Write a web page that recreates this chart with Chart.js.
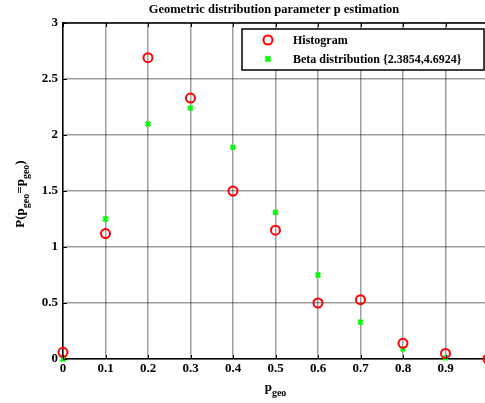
<!DOCTYPE html>
<html>
<head>
  <title>Geometric distribution parameter p estimation</title>
  <script src="https://cdn.jsdelivr.net/npm/chart.js"></script>
  <style>
    body { margin: 0; background: #fff; }
  </style>
</head>
<body>
  <canvas id="myChart" width="485" height="403"></canvas>
  <script>
    // p values where both curves are sampled
    const pValues = [0, 0.1, 0.2, 0.3, 0.4, 0.5, 0.6, 0.7, 0.8, 0.9, 1.0];
    // normalised histogram of the estimates
    const histValues = [0.06, 1.12, 2.69, 2.33, 1.50, 1.15, 0.50, 0.53, 0.14, 0.05, 0.0];
    // fitted beta density
    const betaP = [0, 0.1, 0.2, 0.3, 0.4, 0.5, 0.6, 0.7, 0.8, 0.9];
    const betaValues = [0.0, 1.25, 2.10, 2.24, 1.89, 1.31, 0.75, 0.33, 0.09, 0.01];
    const yTicks = [0, 0.5, 1, 1.5, 2, 2.5, 3];

    const serif = '"Liberation Serif", "Times New Roman", serif';
    const gridColor = 'rgba(0,0,0,0.38)';
    const toXY = (xs, ys) => xs.map((x, i) => ({ x: x, y: ys[i] }));

    // the right edge of the plot box (x = 1) lies just past the canvas
    const stretchRight = {
      id: 'stretchRight',
      afterLayout(chart) {
        const xs = chart.scales.x;
        const right = 488;
        xs.right = right;
        xs.width = right - xs.left;
        xs.configure();
        chart.chartArea.right = right;
        chart.chartArea.width = right - chart.chartArea.left;
      }
    };

    // title, axis labels with subscripts, box, inner ticks and legend
    const decorations = {
      id: 'decorations',
      afterDraw(chart) {
        const ctx = chart.ctx;
        const a = chart.chartArea;
        const xs = chart.scales.x, ys = chart.scales.y;
        ctx.save();

        // top edge of the box
        ctx.strokeStyle = '#000';
        ctx.lineWidth = 1.5;
        ctx.beginPath();
        ctx.moveTo(a.left, a.top);
        ctx.lineTo(a.right, a.top);
        ctx.stroke();

        // tick marks pointing into the plot
        ctx.lineWidth = 1;
        pValues.forEach(v => {
          const px = Math.round(xs.getPixelForValue(v)) + 0.5;
          ctx.beginPath();
          ctx.moveTo(px, a.bottom); ctx.lineTo(px, a.bottom - 4);
          ctx.moveTo(px, a.top); ctx.lineTo(px, a.top + 4);
          ctx.stroke();
        });
        yTicks.forEach(v => {
          const py = Math.round(ys.getPixelForValue(v)) + 0.5;
          ctx.beginPath();
          ctx.moveTo(a.left, py); ctx.lineTo(a.left + 4, py);
          ctx.stroke();
        });

        ctx.fillStyle = '#000';
        ctx.textBaseline = 'alphabetic';

        // title
        ctx.font = 'bold 12.5px ' + serif;
        ctx.textAlign = 'center';
        ctx.fillText('Geometric distribution parameter p estimation', 274, 13);

        // x label: p_geo
        const cx = (a.left + a.right) / 2;
        ctx.font = 'bold 13px ' + serif;
        const wp = ctx.measureText('p').width;
        ctx.font = 'bold 10px ' + serif;
        const wg = ctx.measureText('geo').width;
        let sx = cx - (wp + wg) / 2;
        ctx.textAlign = 'left';
        ctx.font = 'bold 13px ' + serif;
        ctx.fillText('p', sx, 391);
        ctx.font = 'bold 10px ' + serif;
        ctx.fillText('geo', sx + wp, 396);

        // y label: P(p_geo=p_geo), rotated
        ctx.translate(24, 194);
        ctx.rotate(-Math.PI / 2);
        const parts = [
          ['P(p', 13, 0], ['geo', 10, 5], ['=p', 13, 0], ['geo', 10, 5], [')', 13, 0]
        ];
        let total = 0;
        parts.forEach(p => { ctx.font = 'bold ' + p[1] + 'px ' + serif; total += ctx.measureText(p[0]).width; });
        let tx = -total / 2;
        parts.forEach(p => {
          ctx.font = 'bold ' + p[1] + 'px ' + serif;
          ctx.fillText(p[0], tx, p[2]);
          tx += ctx.measureText(p[0]).width;
        });
        ctx.setTransform(1, 0, 0, 1, 0, 0);

        // legend box
        const lx = 242, ly = 29, lw = 242, lh = 41;
        ctx.fillStyle = '#fff';
        ctx.fillRect(lx, ly, lw, lh);
        ctx.strokeStyle = '#000';
        ctx.lineWidth = 1.5;
        ctx.strokeRect(lx, ly, lw, lh);

        ctx.strokeStyle = 'red';
        ctx.lineWidth = 2;
        ctx.beginPath();
        ctx.arc(268, 40, 4.5, 0, Math.PI * 2);
        ctx.stroke();

        ctx.strokeStyle = '#00ff00';
        ctx.lineWidth = 2.5;
        ctx.beginPath();
        ctx.moveTo(265.5, 56.5); ctx.lineTo(270.5, 61.5);
        ctx.moveTo(270.5, 56.5); ctx.lineTo(265.5, 61.5);
        ctx.stroke();

        ctx.fillStyle = '#000';
        ctx.font = 'bold 12px ' + serif;
        ctx.textAlign = 'left';
        ctx.fillText('Histogram', 293, 44);
        ctx.fillText('Beta distribution {2.3854,4.6924}', 293, 63);
        ctx.restore();
      }
    };

    const ctx = document.getElementById('myChart').getContext('2d');
    const myChart = new Chart(ctx, {
      type: 'scatter',
      data: {
        datasets: [{
          label: 'Histogram',
          data: toXY(pValues, histValues),
          pointStyle: 'circle',
          pointRadius: 4.5,
          pointBorderWidth: 2,
          borderColor: 'red',
          backgroundColor: 'rgba(0,0,0,0)',
          clip: false
        }, {
          label: 'Beta distribution {2.3854,4.6924}',
          data: toXY(betaP, betaValues),
          pointStyle: 'crossRot',
          pointRadius: 3.2,
          pointBorderWidth: 2.5,
          borderColor: '#00ff00',
          backgroundColor: '#00ff00',
          clip: false
        }]
      },
      options: {
        responsive: false,
        animation: false,
        layout: { padding: { top: 23, left: 0, right: 0, bottom: 0 } },
        plugins: {
          legend: { display: false },
          title: { display: false },
          tooltip: { enabled: false }
        },
        scales: {
          x: {
            type: 'linear',
            min: 0,
            max: 1,
            afterFit: s => { s.height = 44; s.paddingLeft = 0; s.paddingRight = 0; },
            afterBuildTicks: s => { s.ticks = pValues.map(v => ({ value: v })); },
            ticks: {
              autoSkip: false,
              maxRotation: 0,
              padding: 2,
              color: '#000',
              font: { family: serif, size: 13, weight: 'bold' },
              callback: v => (v >= 0.99 ? '' : (v === 0 ? '0' : v.toFixed(1)))
            },
            grid: {
              color: gridColor,
              lineWidth: 1.5,
              drawTicks: false,
              tickLength: 0
            },
            border: { color: '#000', width: 1.5, dash: [] }
          },
          y: {
            min: 0,
            max: 3,
            afterFit: s => { s.width = 63; s.paddingTop = 0; s.paddingBottom = 0; },
            afterBuildTicks: s => { s.ticks = yTicks.map(v => ({ value: v })); },
            ticks: {
              padding: 5,
              color: '#000',
              font: { family: serif, size: 13, weight: 'bold' },
              callback: v => String(v)
            },
            grid: {
              color: gridColor,
              lineWidth: 1.5,
              drawTicks: false,
              tickLength: 0
            },
            border: { color: '#000', width: 1.5 }
          }
        }
      },
      plugins: [stretchRight, decorations]
    });
  </script>
</body>
</html>
